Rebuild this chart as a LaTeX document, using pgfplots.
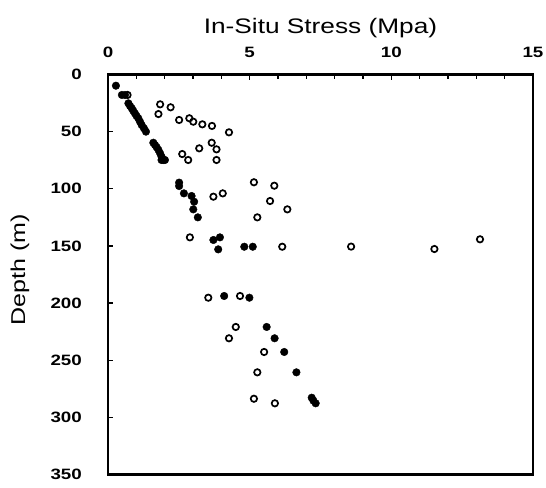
\documentclass[border=0pt]{standalone}
\usepackage{fontspec}
\setmainfont{Liberation Sans}[FakeStretch=1.25]
\usepackage{pgfplots}
\pgfplotsset{compat=1.18}
\begin{document}
\begin{tikzpicture}
\useasboundingbox (-108bp,-13bp) rectangle (438bp,474.5bp);
\begin{axis}[
  at={(0,0)}, anchor=south west,
  width=425bp, height=400bp, scale only axis,
  xmin=0, xmax=15, ymin=0, ymax=350, y dir=reverse,
  xtick={0,5,10,15}, minor x tick num=4,
  ytick={0,50,...,350},
  xtick pos=right, xticklabel pos=right,
  ytick pos=left,
  tick align=inside,
  major tick length=5bp, minor tick length=4bp,
  axis line style={line width=2.5bp},
  every tick/.style={line width=1.2bp, black},
  /pgf/number format/assume math mode=true,
  ticklabel style={font=\fontsize{15bp}{18bp}\selectfont\bfseries},
  xticklabel style={anchor=south, inner sep=0pt, yshift=16.5bp},
  yticklabel style={anchor=east, inner sep=0pt, xshift=-26bp},
  xlabel={In-Situ Stress (Mpa)},
  every axis x label/.style={at={(axis description cs:0.5,1)}, anchor=base, inner sep=0pt, yshift=41.5bp, font=\fontsize{21bp}{25bp}\selectfont},
  ylabel={Depth (m)},
  every axis y label/.style={at={(axis description cs:0,0.5)}, xshift=-88bp, yshift=5bp, rotate=90, anchor=center, inner sep=0pt, font=\fontsize{20bp}{24bp}\selectfont},
  clip=false,
]
\addplot[only marks, mark=*, mark size=3.8bp, mark options={fill=black, draw=black}] coordinates {
(0.28,9.8) (0.49,17.9) (0.60,17.9) (0.72,25.2) (0.78,27.6) (0.84,29.6) (0.89,31.7)
(0.95,34.0) (1.01,36.3) (1.07,38.3) (1.13,41.3) (1.19,44.2) (1.27,47.1) (1.34,50.0)
(1.60,59.7) (1.66,61.7) (1.72,63.7) (1.78,66.0) (1.84,69.0) (1.89,71.9) (1.89,74.8)
(1.95,74.8) (2.01,74.8)
(2.51,94.6) (2.51,97.6) (2.68,104.0) (2.95,106.3) (3.04,111.3) (3.01,118.0) (3.17,125.0)
(3.72,144.8) (3.95,142.5) (3.89,153.0) (4.81,150.7) (5.11,150.7)
(4.10,193.8) (4.99,195.3) (5.60,220.9) (5.88,230.8) (6.22,242.8) (6.65,260.6)
(7.19,282.8) (7.25,285.4) (7.33,287.7)
};
\addplot[only marks, mark=o, mark size=3.2bp, mark options={fill=white, draw=black, line width=1.7bp}] coordinates {
(0.69,17.9) (1.84,26.1) (2.21,28.7) (1.78,34.6) (2.51,39.8) (2.87,38.3) (3.01,41.3)
(3.33,43.6) (3.67,45.0) (4.27,50.6) (3.66,59.7) (3.22,64.6) (3.83,65.5) (2.62,69.6)
(2.83,74.8) (3.83,74.8) (5.15,94.3) (5.87,97.3) (3.72,106.9) (4.05,104.0) (5.72,110.7)
(6.33,118.0) (5.27,125.0) (2.89,142.5) (6.15,150.7) (8.58,150.6) (11.52,152.7) (13.13,144.2)
(3.54,195.3) (4.66,193.8) (4.51,220.9) (4.27,230.8) (5.51,242.8) (5.27,260.6)
(5.15,283.7) (5.89,287.7)
};
\end{axis}
\end{tikzpicture}
\end{document}
